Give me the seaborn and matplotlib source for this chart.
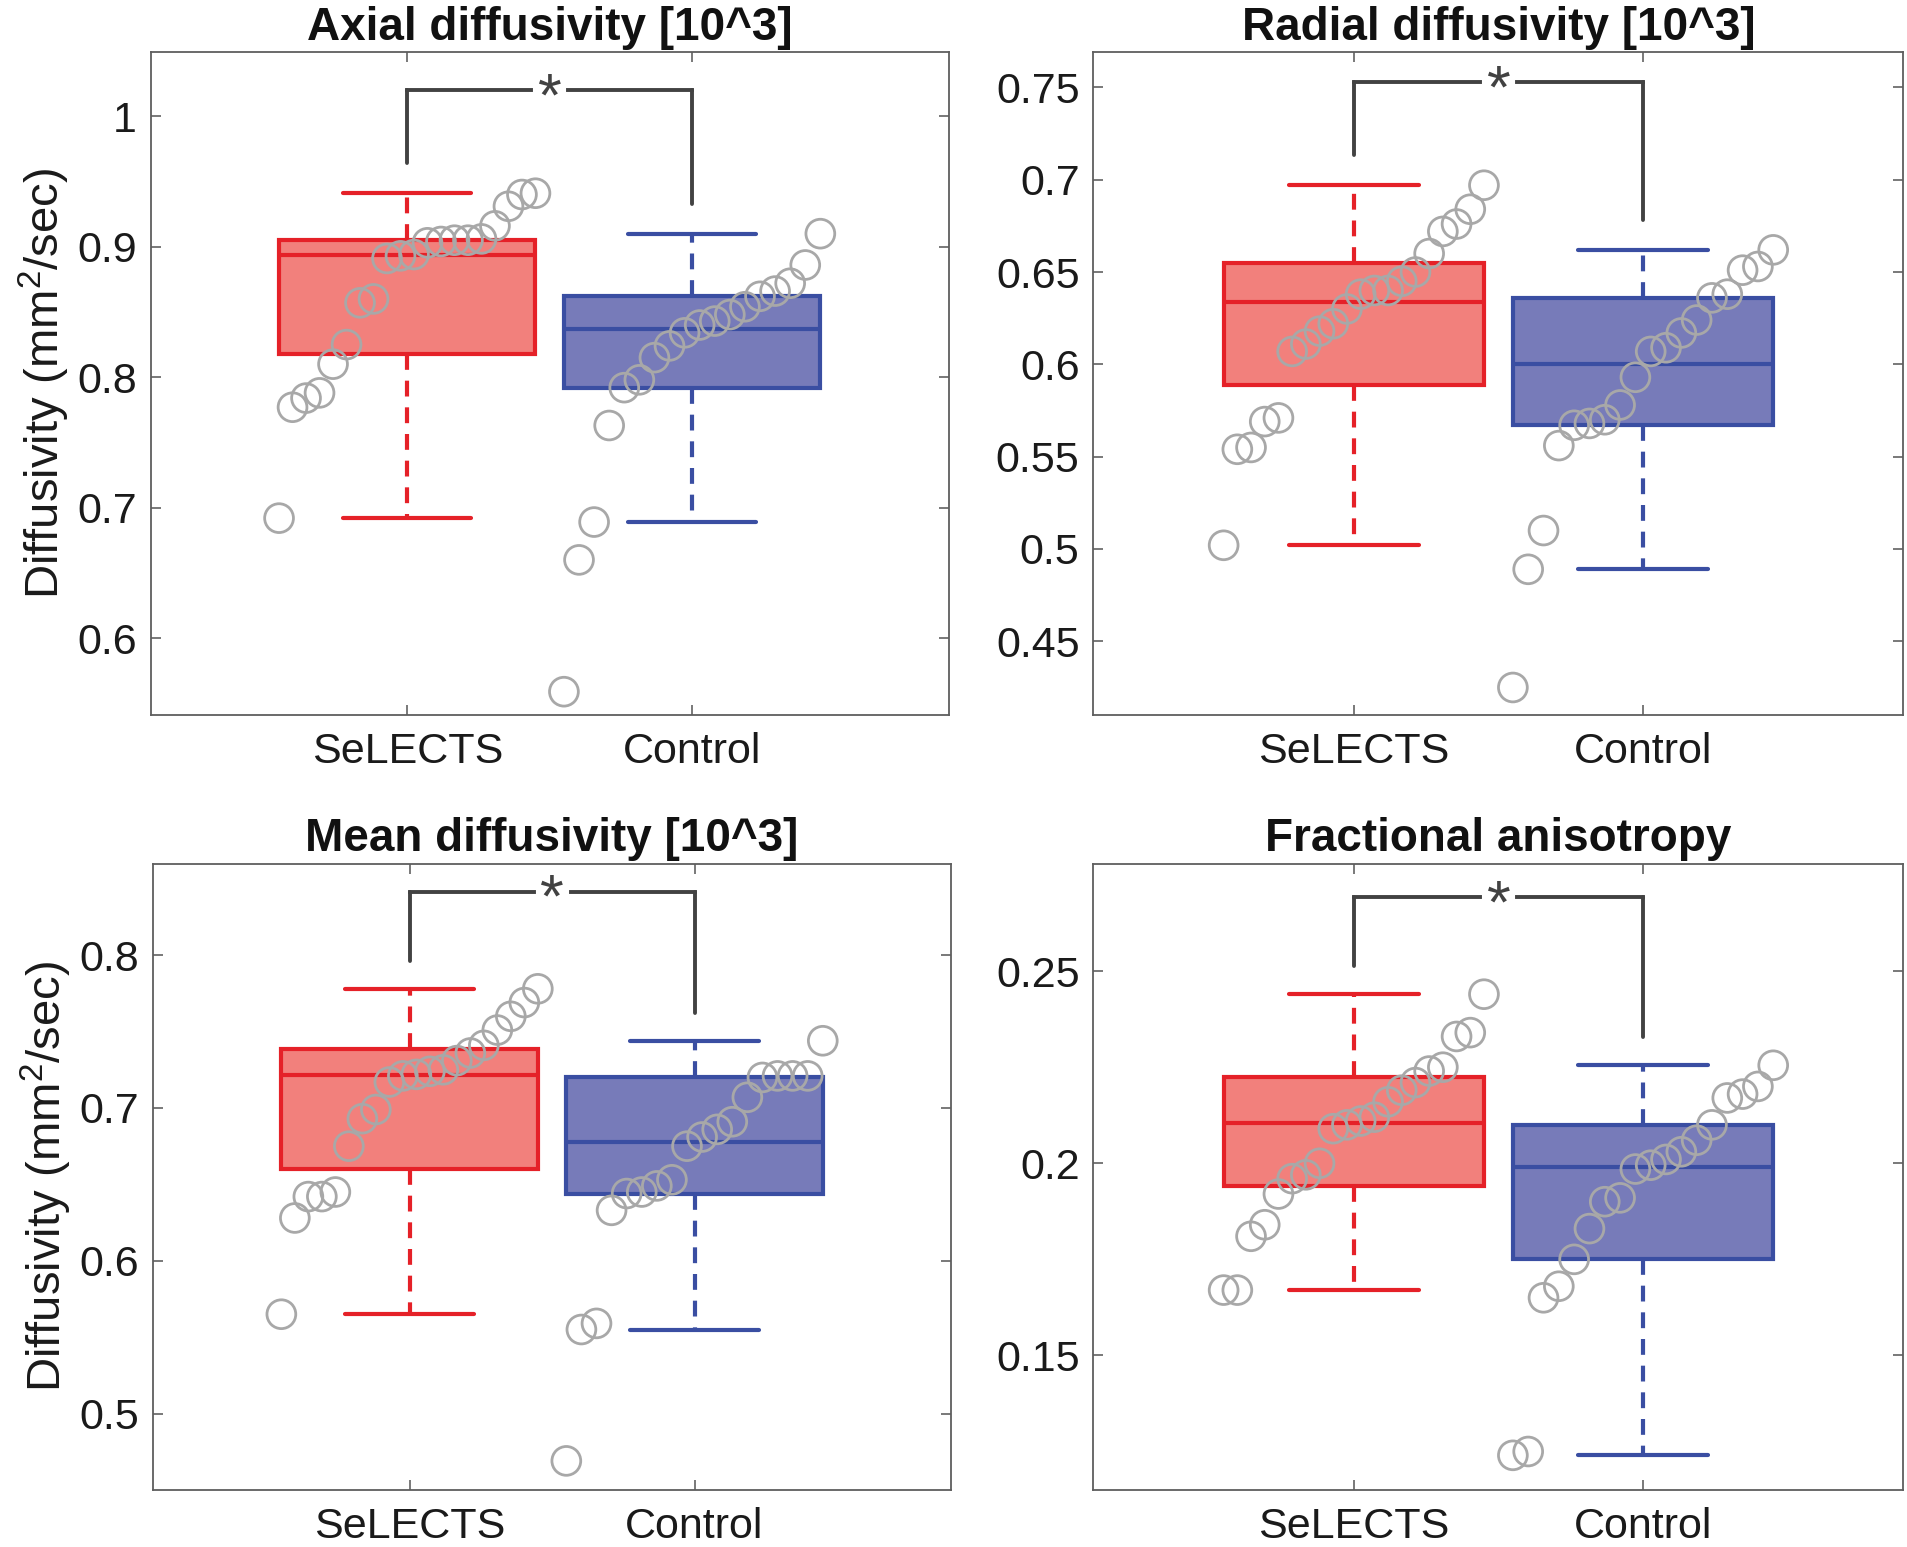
import numpy as np
import pandas as pd
import matplotlib
matplotlib.use("Agg")
import matplotlib.pyplot as plt
import seaborn as sns

# groups / labels
groups = ["SeLECTS", "Control"]
titles = ["Axial diffusivity [10^3]", "Radial diffusivity [10^3]",
          "Mean diffusivity [10^3]", "Fractional anisotropy"]

# values (sorted per group)
axial_selects = [0.692, 0.777, 0.784, 0.788, 0.810, 0.825, 0.857, 0.860, 0.891, 0.893,
                 0.894, 0.903, 0.904, 0.905, 0.905, 0.906, 0.916, 0.931, 0.940, 0.941]
axial_control = [0.559, 0.660, 0.689, 0.763, 0.792, 0.798, 0.815, 0.824, 0.834,
                 0.840, 0.843, 0.848, 0.854, 0.862, 0.866, 0.872, 0.886, 0.910]

radial_selects = [0.502, 0.554, 0.555, 0.569, 0.571, 0.607, 0.611, 0.618, 0.622, 0.630,
                  0.638, 0.640, 0.640, 0.645, 0.650, 0.660, 0.672, 0.676, 0.684, 0.697]
radial_control = [0.425, 0.489, 0.510, 0.556, 0.567, 0.568, 0.570, 0.578, 0.593,
                  0.607, 0.609, 0.617, 0.624, 0.636, 0.638, 0.651, 0.653, 0.662]

mean_selects = [0.565, 0.628, 0.642, 0.642, 0.645, 0.675, 0.693, 0.699, 0.717, 0.721,
                0.722, 0.724, 0.725, 0.731, 0.736, 0.741, 0.751, 0.760, 0.769, 0.778]
mean_control = [0.469, 0.555, 0.559, 0.633, 0.644, 0.645, 0.649, 0.653, 0.675,
                0.681, 0.686, 0.691, 0.707, 0.720, 0.721, 0.721, 0.721, 0.744]

fa_selects = [0.167, 0.167, 0.181, 0.184, 0.192, 0.196, 0.197, 0.200, 0.209, 0.210,
              0.211, 0.212, 0.216, 0.219, 0.221, 0.224, 0.225, 0.233, 0.234, 0.244]
fa_control = [0.124, 0.125, 0.165, 0.168, 0.175, 0.183, 0.190, 0.191, 0.1985,
              0.1995, 0.201, 0.203, 0.206, 0.210, 0.217, 0.218, 0.220, 0.2255]

panel_data = [(axial_selects, axial_control), (radial_selects, radial_control),
              (mean_selects, mean_control), (fa_selects, fa_control)]

ylims = [(0.541, 1.049), (0.410, 0.769), (0.450, 0.860), (0.115, 0.278)]
yticks = [[0.6, 0.7, 0.8, 0.9, 1.0],
          [0.45, 0.5, 0.55, 0.6, 0.65, 0.7, 0.75],
          [0.5, 0.6, 0.7, 0.8],
          [0.15, 0.2, 0.25]]

# styling
edge_colors = ["#e52128", "#3a4ea2"]
face_colors = ["#f2807c", "#777bb9"]
point_color = "#a8a8a8"
bracket_color = "#424242"

sns.set_theme(style="ticks")
plt.rcParams["font.family"] = ["Liberation Sans", "DejaVu Sans"]
plt.rcParams["mathtext.fontset"] = "custom"
plt.rcParams["mathtext.rm"] = "Liberation Sans"
plt.rcParams["mathtext.default"] = "regular"

# axes rectangles (fig fractions)
rects = [[0.0791, 0.5377, 0.4183, 0.4285],
         [0.5734, 0.5377, 0.4247, 0.4285],
         [0.0803, 0.0369, 0.4184, 0.4049],
         [0.5734, 0.0369, 0.4247, 0.4049]]


def matlab_box_stats(vals):
    # quartiles like MATLAB prctile, whiskers at 1.5 IQR
    v = np.asarray(vals)
    q1, med, q3 = np.percentile(v, [25, 50, 75], method="hazen")
    iqr = q3 - q1
    lo = v[v >= q1 - 1.5 * iqr].min()
    hi = v[v <= q3 + 1.5 * iqr].max()
    return dict(med=med, q1=q1, q3=q3, whislo=lo, whishi=hi, fliers=[])


fig = plt.figure(figsize=(19.07, 15.47), dpi=100)

for k in range(4):
    ax = fig.add_axes(rects[k])
    lw = 3.0
    for i, vals in enumerate(panel_data[k]):
        ax.bxp([matlab_box_stats(vals)], positions=[i], widths=0.9,
               patch_artist=True, showfliers=False, manage_ticks=False,
               boxprops=dict(facecolor=face_colors[i], edgecolor=edge_colors[i], linewidth=lw),
               medianprops=dict(color=edge_colors[i], linewidth=lw),
               whiskerprops=dict(color=edge_colors[i], linewidth=lw, linestyle=(0, (3.8, 2.6))),
               capprops=dict(color=edge_colors[i], linewidth=lw))

    # points sorted and spread across the box width
    rows = []
    for i, vals in enumerate(panel_data[k]):
        vs = np.sort(np.asarray(vals))
        xs = np.linspace(i - 0.45, i + 0.45, len(vs))
        rows.append(pd.DataFrame({"pos": xs, "value": vs}))
    df = pd.concat(rows, ignore_index=True)
    sns.scatterplot(data=df, x="pos", y="value", ax=ax, s=430, marker="o",
                    facecolor="none", edgecolor=point_color, linewidth=2.0,
                    zorder=4, legend=False)

    # significance bracket
    lo_lim, hi_lim = ylims[k]
    rng = hi_lim - lo_lim
    maxes = [max(v) for v in panel_data[k]]
    top = max(maxes) + 0.155 * rng
    legs = [m + 0.045 * rng for m in maxes]
    gap = 0.065
    blw = 2.8
    ax.plot([0, 0], [legs[0], top], color=bracket_color, lw=blw, zorder=5)
    ax.plot([1, 1], [legs[1], top], color=bracket_color, lw=blw, zorder=5)
    ax.plot([0, 0.5 - gap], [top, top], color=bracket_color, lw=blw, zorder=5,
            solid_capstyle="projecting")
    ax.plot([0.5 + gap, 1], [top, top], color=bracket_color, lw=blw, zorder=5,
            solid_capstyle="projecting")
    ax.annotate("*", xy=(0.5, top), xytext=(0, -7), textcoords="offset points",
                ha="center", va="center", fontsize=44, color=bracket_color, zorder=6)

    ax.set_xlim(-0.9, 1.9)
    ax.set_ylim(*ylims[k])
    ax.set_xticks([0, 1])
    ax.set_xticklabels(groups)
    ax.set_yticks(yticks[k])
    ax.yaxis.set_major_formatter(matplotlib.ticker.FormatStrFormatter("%g"))
    ax.set_xlabel("")
    ax.set_ylabel("")
    ax.tick_params(axis="both", direction="in", length=7, width=1.1,
                   top=True, right=True, labelsize=31, colors="#555555",
                   labelcolor="#1a1a1a")
    ax.tick_params(axis="x", pad=12)
    ax.tick_params(axis="y", pad=10)
    for sp in ax.spines.values():
        sp.set_visible(True)
        sp.set_color("#5e5e5e")
        sp.set_linewidth(1.3)
    ax.set_title(titles[k], fontsize=33, fontweight="bold", pad=9, color="#111111")
    if k % 2 == 0:
        ax.set_ylabel("Diffusivity (mm$^2$/sec)", fontsize=34, labelpad=4, color="#1a1a1a")

fig.savefig("out.png", dpi=100)
